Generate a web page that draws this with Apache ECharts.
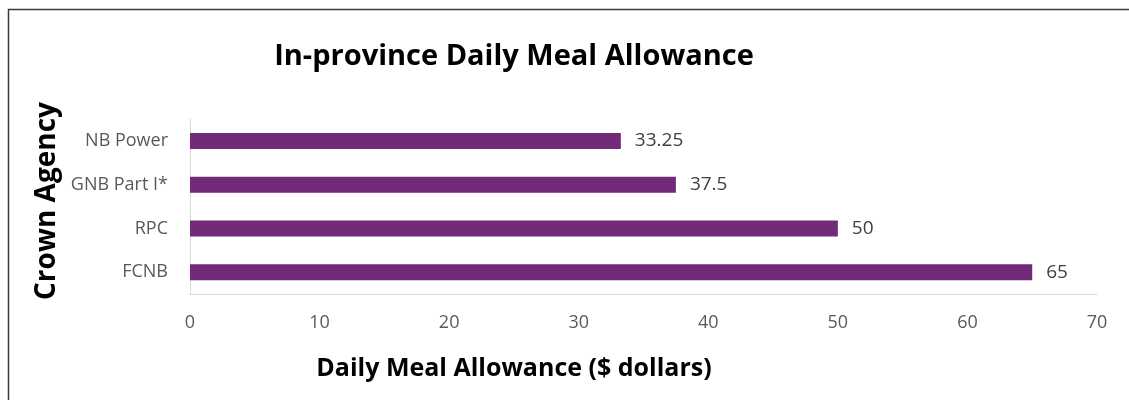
<!DOCTYPE html>
<html lang="en">
<head>
<meta http-equiv="Content-Type" content="text/html; charset=utf-8" />
<title>In-province Daily Meal Allowance</title>
<script src="https://cdn.jsdelivr.net/npm/echarts@6/dist/echarts.min.js"></script>
<style>
html, body { margin: 0; padding: 0; background: #fff; }
#myChart { width: 1129px; height: 400px; }
</style>
</head>
<body>
<div id="myChart"></div>
<script>
// data, bottom to top as drawn on the category axis
var agencies = ['FCNB', 'RPC', 'GNB Part I*', 'NB Power'];
var allowance = [65, 50, 37.5, 33.25];
var xTicks = [0, 10, 20, 30, 40, 50, 60, 70];

var myChart = echarts.init(document.getElementById('myChart'));
var font = 'Open Sans';
var option = {
    animation: false,
    title: [{
        text: 'In-province Daily Meal Allowance',
        left: 509,
        top: 37,
        textAlign: 'center',
        textStyle: { fontFamily: font, fontSize: 29, fontWeight: 'bold', color: '#000' }
    }, {
        // x axis title, sits left of the plot centre like the original
        text: 'Daily Meal Allowance ($ dollars)',
        left: 509,
        top: 351,
        textAlign: 'center',
        textStyle: { fontFamily: font, fontSize: 25, fontWeight: 'bold', color: '#000' }
    }],
    graphic: [{
        type: 'rect',
        shape: { x: 8.5, y: 9.5, width: 1140, height: 420 },
        style: { fill: 'none', stroke: '#3a3a3a', lineWidth: 1.5 }
    }, {
        // y axis title
        type: 'text',
        x: 47,
        y: 201,
        rotation: Math.PI / 2,
        style: {
            text: 'Crown Agency',
            fontFamily: font, fontSize: 28, fontWeight: 'bold', fill: '#000',
            align: 'center', verticalAlign: 'middle'
        }
    }],
    grid: { left: 190, right: 32, top: 119, bottom: 106 },
    xAxis: {
        type: 'value',
        min: xTicks[0],
        max: xTicks[xTicks.length - 1],
        interval: 10,
        axisLine: { show: true, lineStyle: { color: '#d9d9d9', width: 1 } },
        axisTick: { show: false },
        splitLine: { show: false },
        axisLabel: { fontFamily: font, fontSize: 18, color: '#595959', margin: 20 }
    },
    yAxis: {
        type: 'category',
        data: agencies,
        axisLine: { show: true, lineStyle: { color: '#d9d9d9', width: 1 } },
        axisTick: { show: false },
        axisLabel: { fontFamily: font, fontSize: 18, color: '#595959', margin: 22 }
    },
    series: [{
        type: 'bar',
        data: allowance,
        barWidth: 16,
        itemStyle: { color: '#722b78' },
        label: {
            show: true,
            position: 'right',
            distance: 14,
            fontFamily: font,
            fontSize: 19,
            color: '#404040'
        }
    }]
};
myChart.setOption(option);
</script>
</body>
</html>
